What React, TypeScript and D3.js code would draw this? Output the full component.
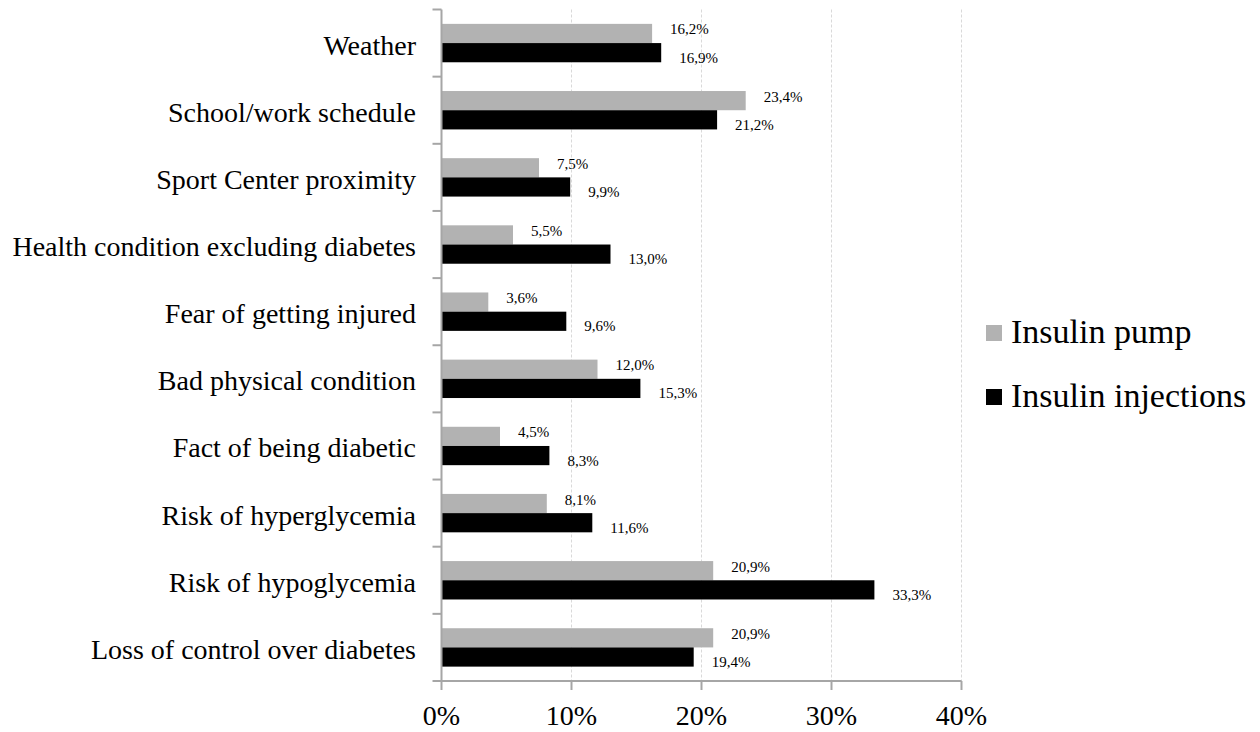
import React from "react";
import * as d3 from "d3";

const categories = [
  "Weather",
  "School/work schedule",
  "Sport Center proximity",
  "Health condition excluding diabetes",
  "Fear of getting injured",
  "Bad physical condition",
  "Fact of being diabetic",
  "Risk of hyperglycemia",
  "Risk of hypoglycemia",
  "Loss of control over diabetes",
];
const insulinPump = [16.2, 23.4, 7.5, 5.5, 3.6, 12.0, 4.5, 8.1, 20.9, 20.9];
const insulinInjections = [16.9, 21.2, 9.9, 13.0, 9.6, 15.3, 8.3, 11.6, 33.3, 19.4];
const xTicks = [0, 10, 20, 30, 40];
const seriesNames = ["Insulin pump", "Insulin injections"];
const seriesColors = ["#b2b2b2", "#000000"];

const W = 1260;
const H = 732;
const FONT = "'Liberation Serif', 'Times New Roman', serif";

export default function App() {
  const x = d3.scaleLinear().domain([0, 40]).range([441.5, 961.5]);
  const y = d3.scaleBand<string>().domain(categories).range([9.5, 681]).paddingInner(0).paddingOuter(0);
  const bw = y.bandwidth();
  const barH = 19.2;
  const groupPad = (bw - 2 * barH) / 2;
  const fmt = (v: number) => v.toFixed(1).replace(".", ",") + "%";
  const series = [insulinPump, insulinInjections];
  const axisColor = "#a6a6a6";
  const [y0, y1] = y.range();

  return (
    <svg
      width={W}
      height={H}
      style={{ position: "absolute", left: 0, top: 0, background: "#fff" }}
      fontFamily={FONT}
    >
      {/* vertical gridlines */}
      {xTicks.slice(1).map((t) => (
        <line
          key={"g" + t}
          x1={x(t)}
          x2={x(t)}
          y1={y0}
          y2={y1}
          stroke="#d9d9d9"
          strokeWidth={1}
          strokeDasharray="3,2"
        />
      ))}

      {/* bars */}
      {categories.map((c, i) =>
        series.map((vals, s) => {
          const top = (y(c) as number) + groupPad + s * barH;
          return (
            <rect
              key={c + s}
              x={x(0)}
              y={top}
              width={x(vals[i]) - x(0)}
              height={barH}
              fill={seriesColors[s]}
            />
          );
        })
      )}

      {/* value labels */}
      {categories.map((c, i) =>
        series.map((vals, s) => {
          const mid = (y(c) as number) + groupPad + s * barH + barH / 2;
          return (
            <text
              key={"l" + c + s}
              x={x(vals[i]) + 18}
              y={mid + (s === 0 ? -4 : 5)}
              dominantBaseline="central"
              fontSize={15}
              fill="#000"
            >
              {fmt(vals[i])}
            </text>
          );
        })
      )}

      {/* y axis */}
      <line x1={x(0)} x2={x(0)} y1={y0} y2={y1} stroke={axisColor} strokeWidth={2} />
      {categories.map((c) => (
        <line
          key={"yt" + c}
          x1={x(0) - 9}
          x2={x(0)}
          y1={y(c) as number}
          y2={y(c) as number}
          stroke={axisColor}
          strokeWidth={2}
        />
      ))}
      <line x1={x(0) - 9} x2={x(0)} y1={y1} y2={y1} stroke={axisColor} strokeWidth={2} />
      {categories.map((c) => (
        <text
          key={"yl" + c}
          x={416}
          y={(y(c) as number) + bw / 2 + 2}
          textAnchor="end"
          dominantBaseline="central"
          fontSize={28}
          fill="#000"
        >
          {c}
        </text>
      ))}

      {/* x axis */}
      <line x1={x(0)} x2={x(40)} y1={y1} y2={y1} stroke={axisColor} strokeWidth={2} />
      {xTicks.map((t) => (
        <g key={"xt" + t}>
          <line x1={x(t)} x2={x(t)} y1={y1} y2={y1 + 9} stroke={axisColor} strokeWidth={2} />
          <text x={x(t)} y={725} textAnchor="middle" fontSize={28} fill="#000">
            {t + "%"}
          </text>
        </g>
      ))}

      {/* legend */}
      {seriesNames.map((n, s) => (
        <g key={"lg" + n} transform={`translate(986, ${325 + s * 64})`}>
          <rect x={0} y={0} width={16} height={16} fill={seriesColors[s]} />
          <text x={25} y={18} fontSize={34} fill="#000">
            {n}
          </text>
        </g>
      ))}
    </svg>
  );
}
